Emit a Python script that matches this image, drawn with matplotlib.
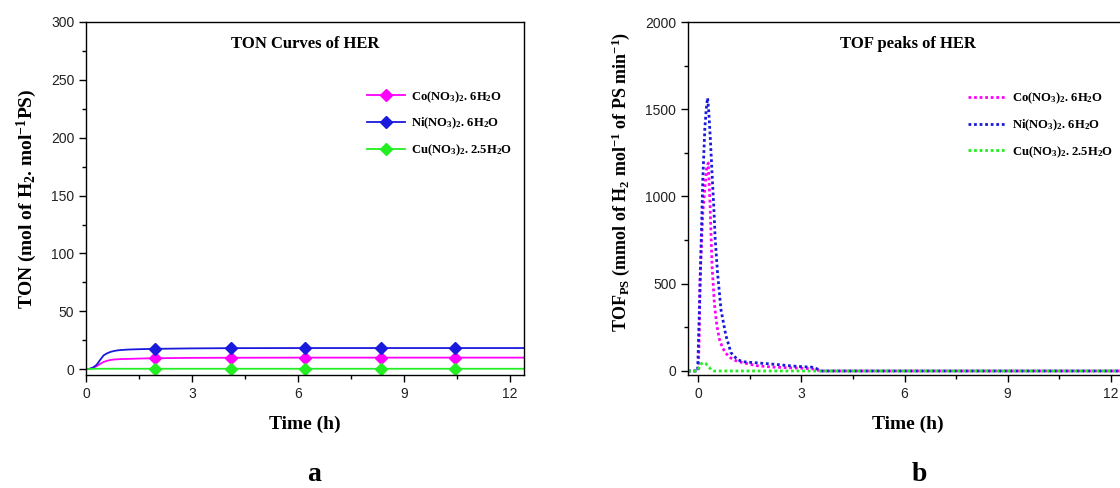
"""
TON / TOF curves of HER for three metal nitrates
"""
import matplotlib
matplotlib.use("Agg")
import matplotlib.pyplot as plt
from matplotlib.ticker import MultipleLocator

plt.rcParams["font.family"] = ["Liberation Sans", "DejaVu Sans"]
plt.rcParams["mathtext.fontset"] = "custom"
plt.rcParams["mathtext.rm"] = "Liberation Serif:bold"
plt.rcParams["mathtext.it"] = "Liberation Serif:bold"
plt.rcParams["mathtext.bf"] = "Liberation Serif:bold"

labels = [r"Co(NO$_3$)$_2$. 6H$_2$O",
          r"Ni(NO$_3$)$_2$. 6H$_2$O",
          r"Cu(NO$_3$)$_2$. 2.5H$_2$O"]
colors = ["#ff00ff", "#1a1adc", "#22ee22"]

# TON data (time in h)
t_ton = [0, 0.1, 0.2, 0.3, 0.4, 0.5, 0.6, 0.7, 0.8, 0.9, 1.0, 1.2, 1.5,
         1.95, 3.0, 4.1, 6.2, 8.35, 10.45, 12.4]
co_ton = [0, 0.3, 1.2, 2.6, 4.6, 6.3, 7.3, 8.0, 8.4, 8.6, 8.8, 8.9, 9.2,
          9.5, 9.8, 9.9, 10.0, 10.0, 10.0, 10.0]
ni_ton = [0, 0.3, 1.5, 3.8, 8.0, 12.0, 13.8, 15.0, 15.8, 16.3, 16.6, 17.0, 17.3,
          17.6, 18.0, 18.2, 18.3, 18.3, 18.3, 18.3]
cu_ton = [0, 0.2, 0.3, 0.4, 0.4, 0.4, 0.4, 0.4, 0.4, 0.4, 0.4, 0.4, 0.4,
          0.4, 0.4, 0.4, 0.4, 0.4, 0.4, 0.4]
marker_idx = [13, 15, 16, 17, 18]

# TOF data
t_co = [-0.3, 0.0, 0.02, 0.05, 0.09, 0.13, 0.19, 0.24, 0.29, 0.34, 0.40, 0.47,
        0.54, 0.61, 0.70, 0.80, 0.92, 1.04, 1.2, 1.38, 1.7, 2.2, 2.7, 3.1, 3.4, 3.55, 12.5]
co_tof = [0, 0, 150, 522, 720, 905, 1050, 1160, 1192, 960, 600, 380,
          260, 185, 135, 102, 78, 63, 52, 44, 30, 22, 18, 15, 10, 0, 0]
t_ni = [-0.3, -0.02, 0.03, 0.08, 0.13, 0.19, 0.23, 0.27, 0.30, 0.35, 0.40, 0.45,
        0.49, 0.56, 0.66, 0.80, 0.95, 1.14, 1.3, 1.6, 2.0, 2.4, 2.7, 3.0, 3.3, 3.46, 3.55, 12.5]
ni_tof = [0, 0, 333, 713, 1096, 1390, 1500, 1565, 1500, 1330, 1130, 940,
          760, 560, 350, 205, 105, 65, 53, 48, 42, 35, 29, 25, 22, 12, 0, 0]
t_cu = [-0.3, -0.02, 0.04, 0.1, 0.15, 0.22, 0.3, 0.37, 0.45, 12.5]
cu_tof = [0, 0, 29, 44, 48, 42, 25, 8, 0, 0]

bold_serif = dict(family="Liberation Serif", weight="bold")

fig = plt.figure(figsize=(11.2, 4.88), dpi=100)
ax1 = fig.add_axes([86 / 1120, 1 - 375 / 488, 438 / 1120, 353 / 488])
ax2 = fig.add_axes([688 / 1120, 1 - 375 / 488, 440 / 1120, 353 / 488])

for y, c, lab in zip([co_ton, ni_ton, cu_ton], colors, labels):
    ax1.plot(t_ton, y, color=c, lw=1.3, marker="D", ms=6, markevery=marker_idx, label=lab)

for t, y, c, lab in zip([t_co, t_ni, t_cu], [co_tof, ni_tof, cu_tof], colors, labels):
    ax2.plot(t, y, color=c, lw=2, linestyle=(0, (1, 1)), label=lab)

ax1.set_xlim(0, 12.4)
ax1.set_ylim(-5, 300)
ax1.yaxis.set_major_locator(MultipleLocator(50))
ax1.yaxis.set_minor_locator(MultipleLocator(25))
ax2.set_xlim(-0.3, 12.5)
ax2.set_ylim(-23, 2000)
ax2.yaxis.set_major_locator(MultipleLocator(500))
ax2.yaxis.set_minor_locator(MultipleLocator(250))

for ax in (ax1, ax2):
    ax.xaxis.set_major_locator(MultipleLocator(3))
    ax.xaxis.set_minor_locator(MultipleLocator(1.5))
    ax.tick_params(which="major", length=5, width=1, labelsize=10, labelcolor="#222222")
    ax.tick_params(which="minor", length=3, width=1)
    for s in ax.spines.values():
        s.set_linewidth(1)
    ax.set_xlabel("Time (h)", fontsize=14, **bold_serif)
    ax.xaxis.set_label_coords(0.5, -0.115)
    ax.xaxis.label.set_va("top")

ax1.set_ylabel(r"TON (mol of H$_2$. mol$^{-1}$PS)", fontsize=14, **bold_serif)
ax1.yaxis.set_label_coords(-0.108, 0.5)
ax2.set_ylabel(r"TOF$_{PS}$ (mmol of H$_2$ mol$^{-1}$ of PS min$^{-1}$)", fontsize=13, **bold_serif)
ax2.yaxis.set_label_coords(-0.128, 0.547)

ax1.text(0.5, 0.937, "TON Curves of HER", transform=ax1.transAxes, ha="center", va="center",
         fontsize=12, **bold_serif)
ax2.text(0.5, 0.937, "TOF peaks of HER", transform=ax2.transAxes, ha="center", va="center",
         fontsize=12, **bold_serif)

leg_kw = dict(loc="upper left", frameon=False, borderpad=0, borderaxespad=0,
              handlelength=3, handletextpad=0.5, labelspacing=0.9,
              prop=dict(family="Liberation Serif", weight="bold", size=9.1))
ax1.legend(bbox_to_anchor=(0.642, 0.81), **leg_kw)
ax2.legend(bbox_to_anchor=(0.636, 0.806), **leg_kw)

fig.text(314 / 1120, 1 - 481 / 488, "a", ha="center", va="baseline", fontsize=20, **bold_serif)
fig.text(919 / 1120, 1 - 481 / 488, "b", ha="center", va="baseline", fontsize=20, **bold_serif)

fig.savefig("out.png", dpi=100)
